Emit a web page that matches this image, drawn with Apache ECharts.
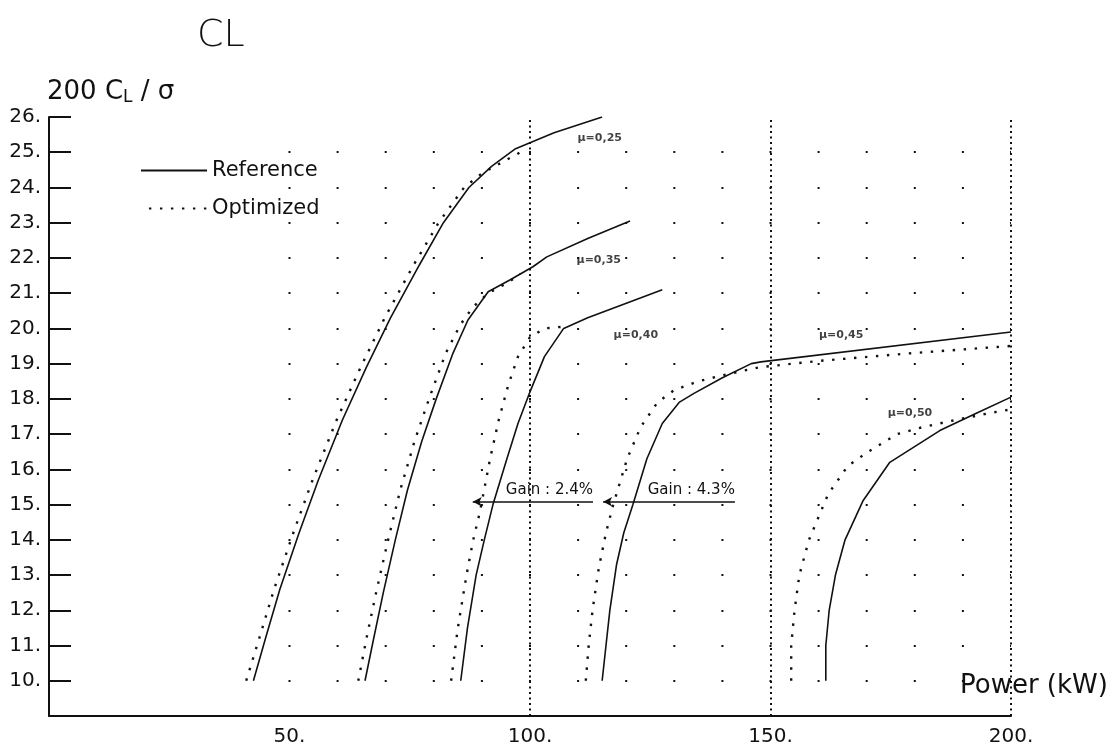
<!DOCTYPE html>
<html>
<head>
<meta charset="utf-8">
<title>200 CL/σ vs Power</title>
<script src="https://cdn.jsdelivr.net/npm/echarts@6/dist/echarts.min.js"></script>
<style>
  html, body { margin: 0; padding: 0; background: #ffffff; }
  #chart { width: 1114px; height: 747px; }
</style>
</head>
<body>
<div id="chart"></div>
<script>
// Power (kW) against 200 CL/sigma for five advance ratios, reference vs optimized blade.
const xTickLabels = ['50.', '100.', '150.', '200.'];

const ref025 = [[42.5,10],[45,11.2],[48,12.6],[52,14.2],[56,15.7],[61,17.4],[66,18.9],[71,20.3],[77,21.8],[82,23.0],[87.3,24.0],[92,24.6],[97,25.1],[105,25.55],[115,26.0]];
const opt025 = [[41,10],[43.7,11.2],[46.8,12.6],[50.8,14.2],[54.8,15.7],[59.8,17.4],[64.8,18.9],[69.8,20.3],[75.8,21.8],[81,23.0],[86.3,24.0],[90,24.4],[94,24.7],[98,25.0]];

const ref035 = [[65.7,10],[67.5,11.2],[69.5,12.5],[72,14],[74.5,15.4],[77.5,16.8],[80.5,18.0],[84,19.3],[87.1,20.24],[91.3,21.04],[95.9,21.38],[100.6,21.75],[103.5,22.03],[112,22.55],[120.8,23.05]];
const opt035 = [[64.3,10],[66,11.2],[68,12.5],[70.5,14],[73,15.4],[76,16.8],[79,18.0],[82.5,19.3],[85.5,20.1],[88.1,20.6],[91.3,21.0],[95.4,21.3],[98,21.55]];

const ref040 = [[85.6,10],[87,11.5],[88.8,13],[90.5,14],[92.3,15],[95.2,16.3],[97.5,17.3],[100,18.2],[103,19.2],[107,20.0],[112,20.3],[127.5,21.1]];
const opt040 = [[83.6,10],[85,11.5],[86.8,13],[88.2,14],[89.6,14.8],[91.7,16.3],[93.5,17.4],[95.5,18.4],[97.5,19.2],[100,19.75],[103,20.0],[107,20.05]];

const ref045 = [[115,10],[115.8,11],[116.6,12],[118,13.3],[119.5,14.2],[121.4,15],[124.3,16.3],[127.5,17.3],[131,17.9],[134,18.15],[140,18.6],[146,19.0],[148,19.05],[200,19.9]];
const opt045 = [[111.6,10],[112.2,11],[113,12],[114.3,13.2],[115.8,14.2],[117.3,15],[120.2,16.3],[123,17.2],[126.5,17.9],[130,18.25],[135,18.5],[141,18.7],[147.8,18.9],[160.3,19.08],[179.6,19.3],[199.8,19.5]];

const ref050 = [[161.5,10],[161.5,11],[162.2,12],[163.5,13],[165.5,14],[169.2,15.1],[174.8,16.2],[185.2,17.1],[192.9,17.6],[200,18.05]];
const opt050 = [[154.3,10],[154.3,11],[155,12],[156,13],[158,14],[162,15.3],[166.1,16.1],[170.3,16.5],[176.3,17.0],[181.7,17.2],[186.7,17.35],[195.6,17.6],[200,17.7]];

// curve tags: [text, power, value]
const muTags = [
  ['\u00b5=0,25', 114.5, 25.4],
  ['\u00b5=0,35', 114.3, 21.95],
  ['\u00b5=0,40', 122, 19.8],
  ['\u00b5=0,45', 164.7, 19.8],
  ['\u00b5=0,50', 179, 17.6]
];

// gain arrows: [text, from power, to power, value]
const gains = [
  ['Gain : 2.4%', 113.1, 88.1, 15.08],
  ['Gain : 4.3%', 142.6, 115.2, 15.08]
];

const markerLines = [100, 150, 200];

// plot frame
const W = 1114, H = 747;
const plotLeft = 49, plotRight = 103, plotTop = 117, plotBottom = 31;
const xMin = 0, xMax = 200, yMin = 9, yMax = 26;
const dotFirstKw = 50;  // first dotted column
const dotStepKw = 10;   // spacing of dotted columns
const pxPerKw = (W - plotLeft - plotRight) / (xMax - xMin);
const dotGridStartKw = dotFirstKw - dotStepKw / 2;
const dotPeriod = dotStepKw * pxPerKw;
const dotSize = 2;

const INK = '#111111';
const solidStyle = { color: INK, width: 1.6, type: 'solid' };
const dotStyle = { color: INK, width: 2.4, type: [2.4, 8.6], cap: 'butt' };

function curve(name, data, style) {
  return {
    type: 'line', name: name, data: data, symbol: 'none', smooth: false,
    xAxisIndex: 0, yAxisIndex: 0,
    lineStyle: style, itemStyle: { color: INK }, z: 5, silent: true
  };
}

const series = [
  curve('Reference', ref025, solidStyle),
  curve('Optimized', opt025, dotStyle),
  curve('Reference', ref035, solidStyle),
  curve('Optimized', opt035, dotStyle),
  curve('Reference', ref040, solidStyle),
  curve('Optimized', opt040, dotStyle),
  curve('Reference', ref045, solidStyle),
  curve('Optimized', opt045, dotStyle),
  curve('Reference', ref050, solidStyle),
  curve('Optimized', opt050, dotStyle),
  {
    type: 'scatter', name: 'tags', symbolSize: 0, silent: true,
    data: muTags.map(t => ({ value: [t[1], t[2]], name: t[0] })),
    label: {
      show: true, position: 'inside', formatter: p => p.name,
      color: INK, fontSize: 11, fontWeight: 'bold', fontFamily: 'DejaVu Sans'
    }
  },
  {
    type: 'line', name: 'marks', data: [], silent: true,
    markLine: {
      silent: true, symbol: 'none', animation: false,
      label: { show: false },
      lineStyle: { color: INK, width: 2, type: [2, 3.5] },
      data: markerLines.map(v => ({ xAxis: v }))
    }
  },
  {
    type: 'line', name: 'gains', data: [], silent: true,
    markLine: {
      silent: true, animation: false,
      symbol: ['none', 'arrow'], symbolSize: [7, 9],
      lineStyle: { color: INK, width: 1.6, type: 'solid' },
      label: {
        show: true, position: 'insideStartTop', distance: [0, 4],
        formatter: p => p.name,
        color: INK, fontSize: 15, fontFamily: 'DejaVu Sans'
      },
      data: gains.map(g => [
        { coord: [g[1], g[3]], name: g[0] },
        { coord: [g[2], g[3]] }
      ])
    }
  }
];

const chart = echarts.init(document.getElementById('chart'), null, { renderer: 'canvas' });
chart.setOption({
  animation: false,
  backgroundColor: '#ffffff',
  title: [
    {
      text: 'CL', left: 192, top: 12,
      textStyle: { fontSize: 38, fontWeight: 200, color: INK, fontFamily: 'DejaVu Sans' }
    },
    {
      text: '200 C{s|L} / \u03c3', left: 42, top: 74,
      textStyle: {
        fontSize: 26, fontWeight: 'normal', color: INK, fontFamily: 'DejaVu Sans',
        rich: { s: { fontSize: 17, color: INK, fontFamily: 'DejaVu Sans', padding: [10, 0, 0, 0] } }
      }
    },
    {
      text: 'Power (kW)', left: 955, top: 668,
      textStyle: { fontSize: 26, fontWeight: 'normal', color: INK, fontFamily: 'DejaVu Sans' }
    }
  ],
  legend: {
    data: ['Reference', 'Optimized'],
    orient: 'vertical', left: 135, top: 155,
    itemWidth: 66, itemHeight: 14, itemGap: 17,
    selectedMode: false,
    itemStyle: { opacity: 0 },
    textStyle: { color: INK, fontSize: 21, fontFamily: 'DejaVu Sans' }
  },
  grid: [
    { left: plotLeft, right: plotRight, top: plotTop, bottom: plotBottom, containLabel: false },
    // same frame, starting half a dot step before the first dotted column
    { left: plotLeft + (dotGridStartKw - xMin) * pxPerKw, right: plotRight, top: plotTop, bottom: plotBottom, containLabel: false }
  ],
  xAxis: [
    {
      gridIndex: 0, type: 'value', min: xMin, max: xMax, interval: 50,
      axisLine: { show: true, onZero: false, lineStyle: { color: INK, width: 2 } },
      axisTick: { show: false },
      splitLine: { show: false },
      axisLabel: {
        color: INK, fontSize: 20, fontFamily: 'DejaVu Sans', margin: 11,
        formatter: v => {
          const i = [50, 100, 150, 200].indexOf(v);
          return i >= 0 ? xTickLabels[i] : '';
        }
      }
    },
    {
      gridIndex: 1, type: 'value', min: dotGridStartKw, max: xMax,
      axisLine: { show: false }, axisTick: { show: false }, axisLabel: { show: false },
      splitLine: { show: false }
    }
  ],
  yAxis: [
    {
      gridIndex: 0, type: 'value', min: yMin, max: yMax, interval: 1,
      axisLine: { show: true, onZero: false, lineStyle: { color: INK, width: 2 } },
      axisTick: { show: true, inside: true, length: 22, lineStyle: { color: INK, width: 2 } },
      axisLabel: {
        color: INK, fontSize: 20, fontFamily: 'DejaVu Sans', margin: 8,
        formatter: v => (v >= 10 ? v + '.' : '')
      },
      splitLine: { show: false }
    },
    {
      // dotted grid: one dot per 10 kW along each integer row
      gridIndex: 1, type: 'value', min: yMin, max: yMax, interval: 1,
      axisLine: { show: false }, axisTick: { show: false }, axisLabel: { show: false },
      splitLine: {
        show: true, showMinLine: false, showMaxLine: false,
        lineStyle: {
          color: INK, width: dotSize,
          type: [dotSize, dotPeriod - dotSize],
          dashOffset: dotPeriod - (dotPeriod / 2 - dotSize / 2)
        }
      }
    }
  ],
  series: series
});
</script>
</body>
</html>
